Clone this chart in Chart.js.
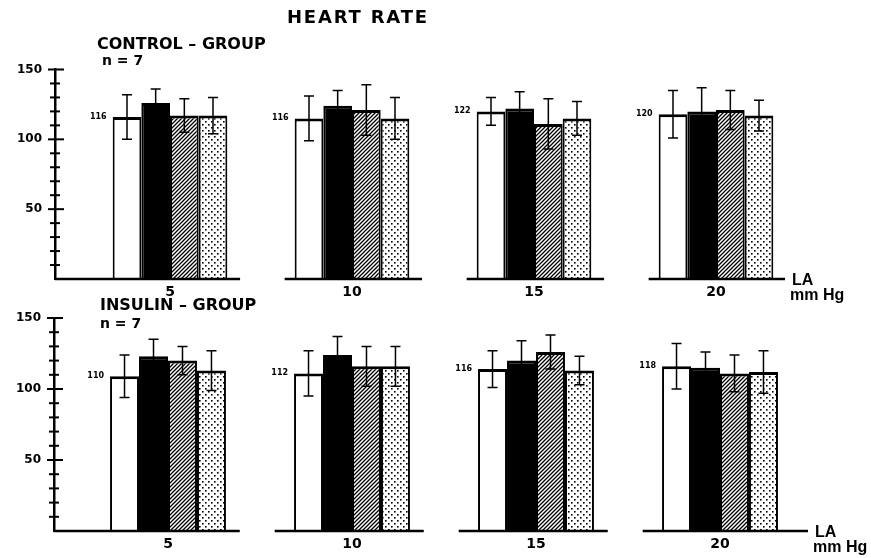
<!DOCTYPE html>
<html>
<head>
<meta charset="utf-8">
<script src="https://cdn.jsdelivr.net/npm/chart.js@4.4.0/dist/chart.umd.min.js"></script>
<style>
  body { margin: 0; background: #fff; }
  canvas { position: absolute; left: 0; }
  #ctrl { top: 0; }
  #ins { top: 285px; }
</style>
</head>
<body>
<canvas id="ctrl" width="871" height="305"></canvas>
<canvas id="ins" width="871" height="273"></canvas>
<script>
const W = 871;

// LA pressure steps (mm Hg)
const laLabels = ['5', '10', '15', '20'];
const laIndex = [1, 2, 3, 4];

// CONTROL - GROUP, n = 7
const ctrlWhite = [116, 115, 120, 118];
const ctrlWhiteErr = [16, 16, 10, 17];
const ctrlBlack = [126, 124, 122, 120];
const ctrlBlackErr = [10, 11, 12, 17];
const ctrlHatched = [117, 121, 111, 121];
const ctrlHatchedErr = [12, 18, 18, 14];
const ctrlDotted = [117, 115, 115, 117];
const ctrlDottedErr = [13, 15, 12, 11];
const ctrlNumbers = ['116', '116', '122', '120'];

// INSULIN - GROUP, n = 7
const insWhite = [109, 111, 114, 116];
const insWhiteErr = [15, 16, 13, 16];
const insBlack = [123, 124, 120, 115];
const insBlackErr = [12, 13, 14, 11];
const insHatched = [120, 116, 126, 111];
const insHatchedErr = [10, 14, 12, 13];
const insDotted = [113, 116, 113, 112];
const insDottedErr = [14, 14, 10, 15];
const insNumbers = ['110', '112', '116', '118'];

function makePattern(size, draw) {
  const c = document.createElement('canvas');
  c.width = c.height = size;
  const g = c.getContext('2d');
  g.fillStyle = '#fff';
  g.fillRect(0, 0, size, size);
  g.fillStyle = g.strokeStyle = '#000';
  draw(g, size);
  return g.createPattern(c, 'repeat');
}

const hatch = makePattern(4, (g, s) => {
  g.lineWidth = 1.3;
  g.beginPath();
  for (let k = -1; k <= 1; k++) {
    g.moveTo(k * s - 1, s + 1);
    g.lineTo(k * s + s + 1, -1);
  }
  g.stroke();
});

const dots = makePattern(6, g => {
  g.fillRect(1, 1, 1.6, 1.6);
  g.fillRect(4, 4, 1.6, 1.6);
});

function series(values, errs, fill) {
  return {
    data: values.map((v, i) => ({ x: laIndex[i], y: v })),
    err: errs,
    backgroundColor: fill,
    borderColor: '#000',
    borderWidth: { top: 3, left: 2, right: 2, bottom: 0 },
    borderSkipped: false,
    categoryPercentage: 0.63,
    barPercentage: 1
  };
}

const panels = [
  {
    id: 'ctrl', h: 305, axisX: 55, first: 170, step: 182, rightX: 785, topY: 69.5, zeroY: 279,
    seg: [-0.37, 0.385],
    title: 'HEART RATE', titleX: 287, titleY: 18,
    group: 'CONTROL – GROUP', groupX: 97, groupY: 45, n: 'n = 7', nX: 102, nY: 61,
    numbers: ctrlNumbers,
    datasets: [
      series(ctrlWhite, ctrlWhiteErr, '#fff'),
      series(ctrlBlack, ctrlBlackErr, '#000'),
      series(ctrlHatched, ctrlHatchedErr, hatch),
      series(ctrlDotted, ctrlDottedErr, dots)
    ]
  },
  {
    id: 'ins', h: 273, axisX: 54, first: 168, step: 184, rightX: 808, topY: 33, zeroY: 246,
    seg: [-0.42, 0.39],
    group: 'INSULIN – GROUP', groupX: 100, groupY: 21, n: 'n = 7', nX: 100, nY: 39,
    numbers: insNumbers,
    datasets: [
      series(insWhite, insWhiteErr, '#fff'),
      series(insBlack, insBlackErr, '#000'),
      series(insHatched, insHatchedErr, hatch),
      series(insDotted, insDottedErr, dots)
    ]
  }
];

// error bars, broken baseline, axis ticks and labels
const decor = {
  id: 'decor',
  afterDatasetsDraw(chart) {
    const { ctx, chartArea } = chart;
    const x = chart.scales.x, y = chart.scales.y;
    const p = chart.options.plugins.decor;
    ctx.save();
    ctx.strokeStyle = '#000';
    ctx.fillStyle = '#000';

    ctx.lineWidth = 1.5;
    chart.data.datasets.forEach((ds, i) => {
      chart.getDatasetMeta(i).data.forEach((bar, j) => {
        const v = ds.data[j].y, e = ds.err[j];
        const t = y.getPixelForValue(v + e), b = y.getPixelForValue(v - e);
        ctx.beginPath();
        ctx.moveTo(bar.x, t); ctx.lineTo(bar.x, b);
        ctx.moveTo(bar.x - 5, t); ctx.lineTo(bar.x + 5, t);
        ctx.moveTo(bar.x - 5, b); ctx.lineTo(bar.x + 5, b);
        ctx.stroke();
      });
    });

    const zero = y.getPixelForValue(0);
    ctx.lineWidth = 2.5;
    laIndex.forEach((k, i) => {
      const a = i === 0 ? chartArea.left : x.getPixelForValue(k + p.seg[0]);
      const b = i === laIndex.length - 1 ? chartArea.right : x.getPixelForValue(k + p.seg[1]);
      ctx.beginPath();
      ctx.moveTo(a, zero);
      ctx.lineTo(b, zero);
      ctx.stroke();
    });

    const ax = chartArea.left;
    ctx.lineWidth = 2;
    y.ticks.forEach(t => {
      if (t.value === 0) return;
      const py = y.getPixelForValue(t.value);
      const major = t.value % 50 === 0;
      ctx.beginPath();
      ctx.moveTo(ax - (major ? 7 : 5), py);
      ctx.lineTo(ax + (major ? 9 : 5), py);
      ctx.stroke();
    });

    ctx.textBaseline = 'middle';
    ctx.textAlign = 'right';
    ctx.font = 'bold 8px "DejaVu Sans"';
    chart.getDatasetMeta(0).data.forEach((bar, j) => {
      ctx.fillText(p.numbers[j], bar.x - bar.width / 2 - 6, bar.y);
    });

    ctx.textAlign = 'left';
    if (p.title) {
      ctx.font = 'bold 18px "DejaVu Sans"';
      ctx.letterSpacing = '1.8px';
      ctx.fillText(p.title, p.titleX, p.titleY);
      ctx.letterSpacing = '0px';
    }
    ctx.font = 'bold 16px "DejaVu Sans"';
    ctx.fillText(p.group, p.groupX, p.groupY);
    ctx.font = 'bold 14px "DejaVu Sans"';
    ctx.fillText(p.n, p.nX, p.nY);
    ctx.font = 'bold 16px "Liberation Sans"';
    ctx.fillText('LA', chartArea.right + 7, zero + 2);
    ctx.fillText('mm Hg', chartArea.right + 5, zero + 17);
    ctx.restore();
  }
};

panels.forEach(p => {
  new Chart(document.getElementById(p.id), {
    type: 'bar',
    data: { datasets: p.datasets },
    plugins: [decor],
    options: {
      responsive: false,
      animation: false,
      layout: { padding: { top: p.topY, right: W - p.rightX, left: 0, bottom: 0 } },
      plugins: {
        legend: { display: false },
        tooltip: { enabled: false },
        decor: p
      },
      scales: {
        x: {
          type: 'linear',
          offset: false,
          min: 1 - (p.first - p.axisX) / p.step,
          max: 1 + (p.rightX - p.first) / p.step,
          grid: { display: false, drawTicks: false },
          border: { display: false },
          afterBuildTicks: s => { s.ticks = laIndex.map(v => ({ value: v })); },
          afterFit: s => { s.height = p.h - p.zeroY; },
          ticks: {
            padding: 5,
            autoSkip: false,
            maxRotation: 0,
            color: '#000',
            font: { family: 'DejaVu Sans', size: 14, weight: 'bold' },
            callback: (v, i) => laLabels[i]
          }
        },
        y: {
          min: 0,
          max: 150,
          grid: { display: false, drawTicks: false },
          border: { display: true, color: '#000', width: 2.5 },
          afterFit: s => { s.width = p.axisX; },
          ticks: {
            stepSize: 10,
            autoSkip: false,
            padding: 13,
            color: '#000',
            font: { family: 'DejaVu Sans', size: 12, weight: 'bold' },
            callback: v => (v > 0 && v % 50 === 0 ? v : '')
          }
        }
      }
    }
  });
});
</script>
</body>
</html>
